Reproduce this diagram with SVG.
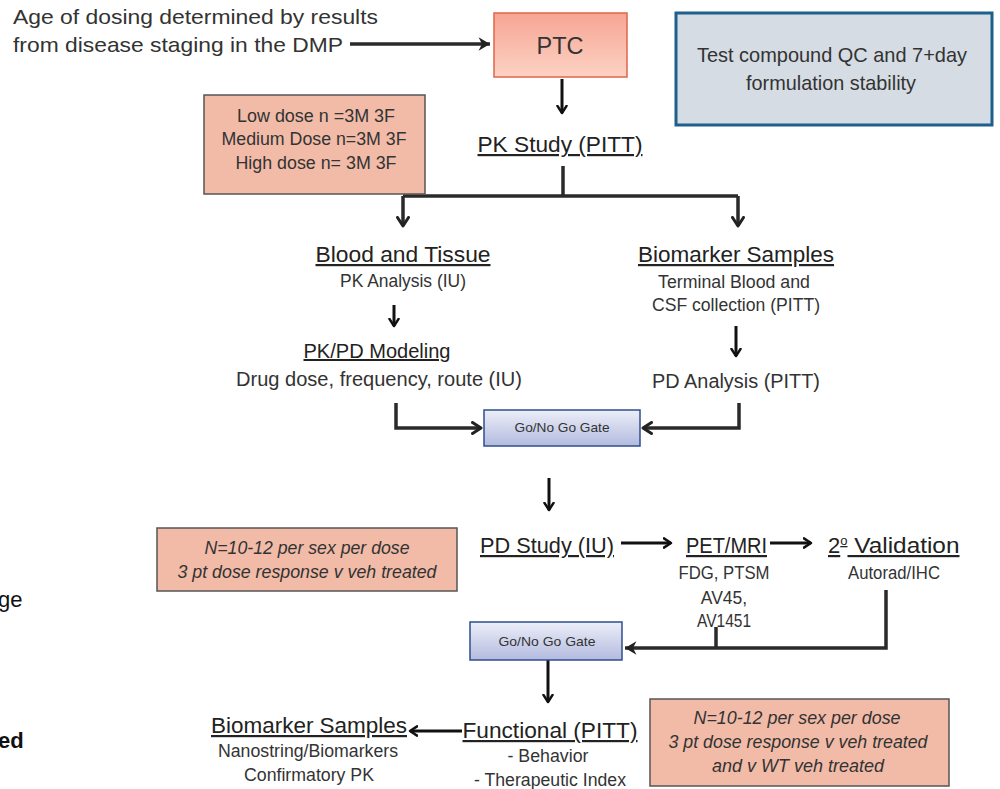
<svg xmlns="http://www.w3.org/2000/svg" width="1000" height="789" viewBox="0 0 1000 789">
<defs>
<linearGradient id="gPTC" x1="0" y1="0" x2="0" y2="1"><stop offset="0" stop-color="#f7a593"/><stop offset="1" stop-color="#fcd2c4"/></linearGradient>
<linearGradient id="gGate" x1="0" y1="0" x2="0" y2="1"><stop offset="0" stop-color="#eceef8"/><stop offset="1" stop-color="#b3bbdf"/></linearGradient>
<marker id="ch" viewBox="0 0 12 14" refX="10" refY="7" markerWidth="12" markerHeight="14" orient="auto" markerUnits="userSpaceOnUse"><path d="M1.5,1.5 L10,7 L1.5,12.5" fill="none" stroke="#222" stroke-width="3" stroke-linecap="round" stroke-linejoin="round"/></marker>
<marker id="chS" viewBox="0 0 12 14" refX="10" refY="7" markerWidth="10" markerHeight="12" orient="auto" markerUnits="userSpaceOnUse"><path d="M1.5,1.5 L10,7 L1.5,12.5" fill="none" stroke="#111" stroke-width="3" stroke-linecap="round" stroke-linejoin="round"/></marker>
<marker id="tri" viewBox="0 0 12 14" refX="11" refY="7" markerWidth="14" markerHeight="16" orient="auto" markerUnits="userSpaceOnUse"><path d="M1,1 L11,7 L1,13 L4,7 Z" fill="#222"/></marker>
</defs>
<style>
text{font-family:"Liberation Sans",Arial,sans-serif;fill:#333}
.h{font-size:22px;fill:#222;text-decoration:underline}
.s{font-size:17.5px}
.m{font-size:20px}
.i{font-size:17.5px;font-style:italic}
.c{text-anchor:middle}
.ln{fill:none;stroke:#2a2a2a;stroke-width:3.5}
.lk{fill:none;stroke:#111;stroke-width:3}
.pink{fill:#f1bba8;stroke:#555;stroke-width:1.5}
.gate{fill:url(#gGate);stroke:#2f4d8f;stroke-width:1.5}
.gt{font-size:13px;fill:#333}
</style>

<g id="connectors">
<path class="ln" d="M350,44 H490" stroke-width="5" marker-end="url(#tri)"/>
<path class="lk" d="M562,79 V113" marker-end="url(#chS)"/>
<path class="ln" d="M563,166 V196"/>
<path class="ln" d="M403,196 H738"/>
<path class="ln" d="M403,196 V226" marker-end="url(#ch)"/>
<path class="ln" d="M738,196 V226" marker-end="url(#ch)"/>
<path class="lk" d="M394,305 V326" marker-end="url(#chS)"/>
<path class="lk" d="M736,326 V356" marker-end="url(#chS)"/>
<path class="ln" d="M396,403 V428 H481" marker-end="url(#ch)"/>
<path class="ln" d="M739,403 V428 H643" marker-end="url(#ch)"/>
<path class="lk" d="M549,478 V510" marker-end="url(#chS)"/>
<path class="lk" d="M621,543 H671" stroke-width="4" marker-end="url(#chS)"/>
<path class="lk" d="M770,543 H811" stroke-width="4" marker-end="url(#chS)"/>
<path class="ln" d="M716,627 V648"/>
<path class="ln" d="M886,590 V648 H625" stroke-width="4.5" marker-end="url(#tri)"/>
<path class="lk" d="M548,660 V702" marker-end="url(#chS)"/>
<path class="lk" d="M462,731 H410" marker-end="url(#chS)"/>
</g>

<g id="intro">
<text x="13" y="24" style="font-size:21px" textLength="365" lengthAdjust="spacingAndGlyphs">Age of dosing determined by results</text>
<text x="13" y="52" style="font-size:21px" textLength="330" lengthAdjust="spacingAndGlyphs">from disease staging in the DMP</text>
</g>

<g id="ptc">
<rect x="494" y="13" width="133" height="64" fill="url(#gPTC)" stroke="#e0654a" stroke-width="1.5"/>
<text class="c" x="560" y="54" style="font-size:23px" textLength="47" lengthAdjust="spacingAndGlyphs">PTC</text>
</g>

<g id="qc">
<rect x="676" y="13" width="316" height="112" fill="#d5dce3" stroke="#1f5f8b" stroke-width="3"/>
<text class="c m" x="832" y="62" style="font-size:21px" textLength="270" lengthAdjust="spacingAndGlyphs">Test compound QC and 7+day</text>
<text class="c m" x="831" y="90" style="font-size:21px" textLength="170" lengthAdjust="spacingAndGlyphs">formulation stability</text>
</g>

<g id="doses">
<rect class="pink" x="204" y="95" width="221" height="99"/>
<text class="c s" x="316" y="122" textLength="158" lengthAdjust="spacingAndGlyphs">Low dose n =3M 3F</text>
<text class="c s" x="314" y="145" textLength="185" lengthAdjust="spacingAndGlyphs">Medium Dose n=3M 3F</text>
<text class="c s" x="316" y="169" textLength="161" lengthAdjust="spacingAndGlyphs">High dose n= 3M 3F</text>
</g>

<g id="pkstudy">
<text class="c h" x="560" y="152" textLength="165" lengthAdjust="spacingAndGlyphs">PK Study (PITT)</text>
</g>

<g id="blood">
<text class="c h" x="403" y="262" textLength="175" lengthAdjust="spacingAndGlyphs">Blood and Tissue</text>
<text class="c s" x="403" y="287" textLength="126" lengthAdjust="spacingAndGlyphs">PK Analysis (IU)</text>
</g>

<g id="pkpd">
<text class="c h" x="377" y="358" textLength="147" lengthAdjust="spacingAndGlyphs" style="font-size:20px">PK/PD Modeling</text>
<text class="c m" x="379" y="386" textLength="286" lengthAdjust="spacingAndGlyphs">Drug dose, frequency,  route (IU)</text>
</g>

<g id="biomarker1">
<text class="c h" x="736" y="262" textLength="196" lengthAdjust="spacingAndGlyphs">Biomarker Samples</text>
<text class="c s" x="734" y="288" textLength="152" lengthAdjust="spacingAndGlyphs">Terminal Blood and</text>
<text class="c s" x="736" y="311" textLength="168" lengthAdjust="spacingAndGlyphs">CSF collection (PITT)</text>
</g>

<g id="pdanalysis">
<text class="c m" x="736" y="388" textLength="168" lengthAdjust="spacingAndGlyphs">PD Analysis (PITT)</text>
</g>

<g id="gate1">
<rect class="gate" x="484" y="410" width="156" height="36"/>
<text class="c gt" x="562" y="432" textLength="95" lengthAdjust="spacingAndGlyphs">Go/No  Go Gate</text>
</g>

<g id="note1">
<rect class="pink" x="157" y="528" width="300" height="63"/>
<text class="c i" x="307" y="554" textLength="205" lengthAdjust="spacingAndGlyphs">N=10-12 per sex per dose</text>
<text class="c i" x="307" y="578" textLength="259" lengthAdjust="spacingAndGlyphs">3 pt dose response v veh treated</text>
</g>

<g id="pdstudy">
<text class="h" x="480" y="553" textLength="134" lengthAdjust="spacingAndGlyphs">PD Study (IU)</text>
</g>

<g id="petmri">
<text class="h" x="686" y="553" textLength="81" lengthAdjust="spacingAndGlyphs">PET/MRI</text>
<text class="c s" x="724" y="579" textLength="91" lengthAdjust="spacingAndGlyphs">FDG, PTSM</text>
<text class="c s" x="724" y="604">AV45,</text>
<text class="c s" x="724" y="627" textLength="54" lengthAdjust="spacingAndGlyphs">AV1451</text>
</g>

<g id="validation">
<text class="h" x="828" y="553">2<tspan style="font-size:13px" dy="-8">o</tspan><tspan dy="8" textLength="112" lengthAdjust="spacingAndGlyphs"> Validation</tspan></text>
<text class="c s" x="894" y="579" textLength="92" lengthAdjust="spacingAndGlyphs">Autorad/IHC</text>
</g>

<g id="gate2">
<rect class="gate" x="470" y="622" width="152" height="38"/>
<text class="c gt" x="547" y="646" textLength="97" lengthAdjust="spacingAndGlyphs">Go/No  Go Gate</text>
</g>

<g id="functional">
<text class="c h" x="550" y="738" textLength="175" lengthAdjust="spacingAndGlyphs">Functional (PITT)</text>
<text class="c s" x="548" y="762" textLength="81" lengthAdjust="spacingAndGlyphs">- Behavior</text>
<text class="c s" x="550" y="786" textLength="152" lengthAdjust="spacingAndGlyphs">- Therapeutic Index</text>
</g>

<g id="biomarker2">
<text class="c h" x="309" y="733" textLength="196" lengthAdjust="spacingAndGlyphs">Biomarker Samples</text>
<text class="c s" x="308" y="757" textLength="180" lengthAdjust="spacingAndGlyphs">Nanostring/Biomarkers</text>
<text class="c s" x="309" y="781" textLength="130" lengthAdjust="spacingAndGlyphs">Confirmatory PK</text>
</g>

<g id="note2">
<rect class="pink" x="650" y="699" width="299" height="87"/>
<text class="c i" x="797" y="724" textLength="207" lengthAdjust="spacingAndGlyphs">N=10-12 per sex per dose</text>
<text class="c i" x="798" y="748" textLength="259" lengthAdjust="spacingAndGlyphs">3 pt dose response v veh treated</text>
<text class="c i" x="798" y="772" textLength="172" lengthAdjust="spacingAndGlyphs">and v WT veh treated</text>
</g>

<g id="edge">
<text x="-2" y="607" style="font-size:22px;fill:#111">ge</text>
<text x="-2" y="748" style="font-size:22px;font-weight:bold;fill:#111">ed</text>
</g>
</svg>
